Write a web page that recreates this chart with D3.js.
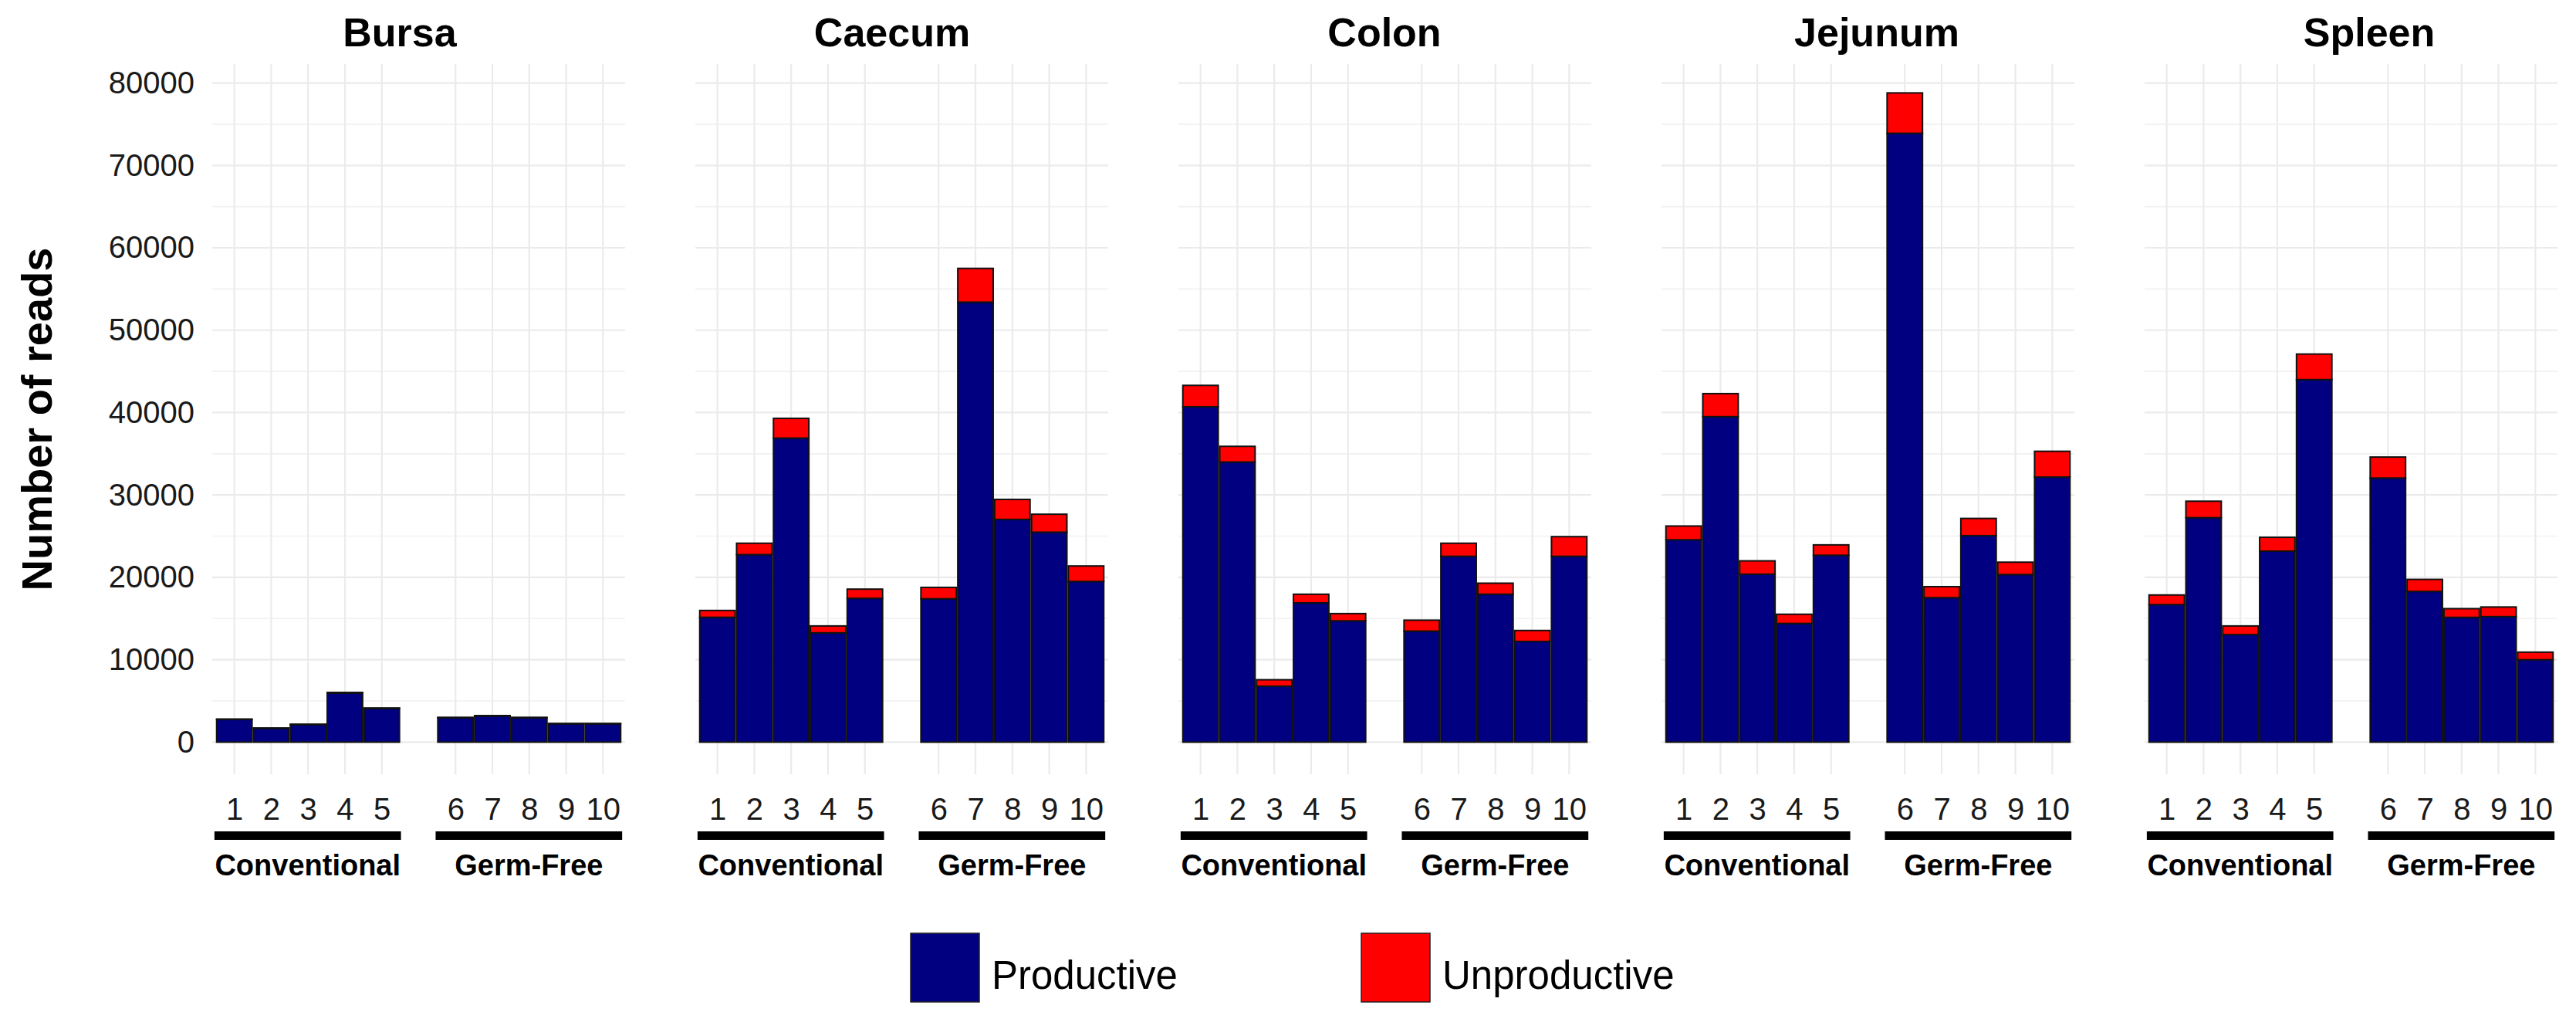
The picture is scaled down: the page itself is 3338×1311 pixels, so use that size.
<!DOCTYPE html>
<html>
<head>
<meta charset="utf-8">
<script src="https://cdn.jsdelivr.net/npm/d3@7"></script>
<style>
  html, body { margin: 0; padding: 0; background: #ffffff; }
  svg text { font-family: "Liberation Sans", Arial, Helvetica, sans-serif; }
</style>
</head>
<body>
<svg id="chart" width="3338" height="1311"></svg>
<script>
// ---------------- data ----------------
const tissues = ["Bursa", "Caecum", "Colon", "Jejunum", "Spleen"];
const samples = ["1", "2", "3", "4", "5", "6", "7", "8", "9", "10"];
const slots = ["1", "2", "3", "4", "5", "gap", "6", "7", "8", "9", "10"];
const groups = ["Conventional", "Germ-Free"];
const groupSamples = [["1", "2", "3", "4", "5"], ["6", "7", "8", "9", "10"]];
const readTypes = ["Productive", "Unproductive"];
const yTicks = [0, 10000, 20000, 30000, 40000, 50000, 60000, 70000, 80000];
const yMinorTicks = [5000, 15000, 25000, 35000, 45000, 55000, 65000, 75000];

const bursaProductive     = [2750, 1680, 2130, 5950, 4080, 2960, 3180, 2960, 2230, 2230];
const bursaUnproductive   = [50, 30, 40, 80, 60, 40, 40, 40, 30, 30];
const caecumProductive    = [15150, 22760, 36900, 13260, 17450, 17400, 53400, 27030, 25480, 19500];
const caecumUnproductive  = [830, 1380, 2400, 840, 1120, 1380, 4100, 2430, 2180, 1880];
const colonProductive     = [40700, 34000, 6780, 16900, 14720, 13470, 22550, 17950, 12220, 22550];
const colonUnproductive   = [2600, 1900, 790, 1050, 880, 1330, 1590, 1340, 1330, 2390];
const jejunumProductive   = [24560, 39500, 20380, 14400, 22680, 73900, 17530, 25060, 20340, 32170];
const jejunumUnproductive = [1670, 2800, 1620, 1120, 1260, 4900, 1340, 2090, 1500, 3130];
const spleenProductive    = [16690, 27240, 13050, 23180, 44000, 32050, 18290, 15140, 15230, 10000];
const spleenUnproductive  = [1170, 2000, 1050, 1680, 3100, 2550, 1460, 1060, 1170, 920];

const productiveByTissue = [bursaProductive, caecumProductive, colonProductive, jejunumProductive, spleenProductive];
const unproductiveByTissue = [bursaUnproductive, caecumUnproductive, colonUnproductive, jejunumUnproductive, spleenUnproductive];

// ---------------- layout ----------------
const colors = { Productive: "#000080", Unproductive: "#ff0000" };
const panelLeft0 = 275, panelWidth = 535, panelPitch = 626;
const panelTop = 83, panelBottom = 1003;
const titleCenter0 = 518, titlePitch = 638;
const textFont = "'Liberation Sans', Arial, Helvetica, sans-serif";

const svg = d3.select("#chart");

const y = d3.scaleLinear().domain([-3900, 82300]).range([panelBottom, panelTop]);

tissues.forEach((tissue, ti) => {
  const x0 = panelLeft0 + ti * panelPitch;
  const x = d3.scalePoint().domain(slots).range([x0, x0 + panelWidth]).padding(0.6);
  const step = x.step();
  const g = svg.append("g").attr("class", "panel");

  // minor grid
  g.selectAll("line.ymin").data(yMinorTicks).join("line")
    .attr("x1", x0).attr("x2", x0 + panelWidth)
    .attr("y1", d => y(d)).attr("y2", d => y(d))
    .attr("stroke", "#f1f1f1").attr("stroke-width", 1.6);
  // major grid
  g.selectAll("line.ymaj").data(yTicks).join("line")
    .attr("x1", x0).attr("x2", x0 + panelWidth)
    .attr("y1", d => y(d)).attr("y2", d => y(d))
    .attr("stroke", "#ebebeb").attr("stroke-width", 2.2);
  g.selectAll("line.xmaj").data(samples).join("line")
    .attr("x1", d => x(d)).attr("x2", d => x(d))
    .attr("y1", panelTop).attr("y2", panelBottom)
    .attr("stroke", "#ebebeb").attr("stroke-width", 2.2);

  // stacked data
  const rows = samples.map((s, i) => ({
    sample: s,
    Productive: productiveByTissue[ti][i],
    Unproductive: unproductiveByTissue[ti][i]
  }));
  const stack = d3.stack().keys(readTypes)(rows);
  const bw = step * 0.96;
  stack.forEach(layer => {
    g.selectAll(null).data(layer).join("rect")
      .attr("x", d => x(d.data.sample) - bw / 2)
      .attr("width", bw)
      .attr("y", d => y(d[1]))
      .attr("height", d => Math.max(0, y(d[0]) - y(d[1])))
      .attr("fill", colors[layer.key])
      .attr("stroke", "#111")
      .attr("stroke-width", 2);
  });

  // x tick labels
  const xAxis = d3.axisBottom(x).tickValues(samples).tickSize(0).tickPadding(0);
  const ax = g.append("g").attr("transform", `translate(0, 1062)`).call(xAxis);
  ax.select(".domain").remove();
  ax.selectAll("text")
    .attr("dy", 0).attr("y", 0)
    .attr("font-family", textFont).attr("font-size", 40).attr("fill", "#1a1a1a");

  // group bars and labels
  groups.forEach((grp, gi) => {
    const members = groupSamples[gi];
    const xa = x(members[0]) - step * 0.54;
    const xb = x(members[members.length - 1]) + step * 0.52;
    g.append("rect").attr("x", xa).attr("y", 1077).attr("width", xb - xa).attr("height", 11).attr("fill", "#000");
    g.append("text").attr("x", (xa + xb) / 2).attr("y", 1134)
      .attr("text-anchor", "middle").attr("font-family", textFont)
      .attr("font-weight", "bold").attr("font-size", 38).attr("fill", "#000")
      .text(grp);
  });

  // title
  g.append("text").attr("x", titleCenter0 + ti * titlePitch).attr("y", 60)
    .attr("text-anchor", "middle").attr("font-family", textFont)
    .attr("font-weight", "bold").attr("font-size", 52).attr("fill", "#000")
    .text(tissue);

  // y axis labels on first panel only
  if (ti === 0) {
    const yAxis = d3.axisLeft(y).tickValues(yTicks).tickSize(0).tickPadding(0).tickFormat(d3.format("d"));
    const ay = svg.append("g").attr("transform", `translate(252,0)`).call(yAxis);
    ay.select(".domain").remove();
    ay.selectAll("text")
      .attr("font-family", textFont).attr("font-size", 40).attr("fill", "#1a1a1a");
  }
});

// y-axis title
svg.append("text")
  .attr("transform", `translate(67, ${(panelTop + panelBottom) / 2}) rotate(-90)`)
  .attr("text-anchor", "middle").attr("font-family", textFont)
  .attr("font-weight", "bold").attr("font-size", 56).attr("fill", "#000")
  .text("Number of reads");

// legend
const legendX = [1180, 1764];
readTypes.forEach((k, i) => {
  svg.append("rect").attr("x", legendX[i]).attr("y", 1209).attr("width", 89).attr("height", 89)
    .attr("fill", colors[k]).attr("stroke", "#222").attr("stroke-width", 1.5);
  svg.append("text").attr("x", legendX[i] + 105).attr("y", 1281)
    .attr("font-family", textFont).attr("font-size", 51).attr("fill", "#000")
    .text(k);
});
</script>
</body>
</html>
